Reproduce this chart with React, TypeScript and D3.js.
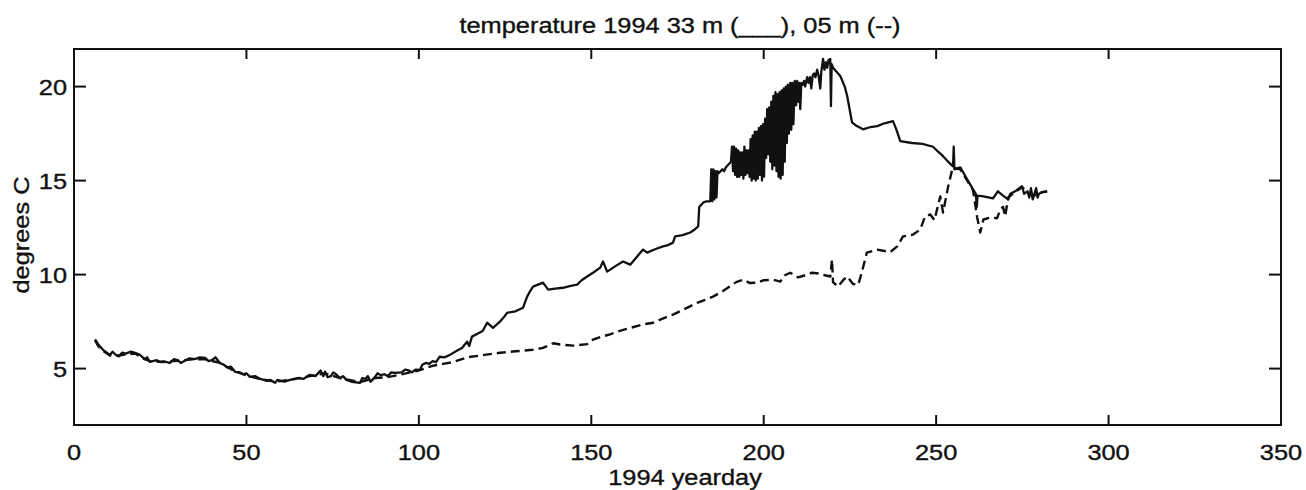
import React from "react";
import * as d3 from "d3";

// 33 m temperature (solid) : [yearday, degrees C]
const deep33m: [number, number][] = [
  [6.1, 6.55], [7.0, 6.3], [8.4, 6.0], [9.5, 5.85], [10.4, 5.73], [11.2, 5.9], [12, 5.75], [13, 5.65],
  [14, 5.85], [15, 5.8], [16.5, 5.9], [17.7, 5.84], [19, 5.75], [20.5, 5.5], [21.2, 5.6], [22, 5.36], [24, 5.45], [25, 5.35], [26, 5.38],
  [27.8, 5.3], [29, 5.5], [30, 5.45], [31, 5.3], [32, 5.4], [33.5, 5.55], [35, 5.5], [36.5, 5.6], [38, 5.57], [39, 5.4], [40, 5.45], [41, 5.6], [42.3, 5.3],
  [43.5, 5.2], [44.5, 5.05], [45.5, 5.1], [46.7, 4.83], [48, 4.8], [49, 4.7], [50, 4.75], [51, 4.56], [52.5, 4.6], [54, 4.45], [56, 4.35], [57, 4.4], [58.3, 4.24],
  [59, 4.4], [60, 4.35], [61, 4.3], [62.6, 4.4], [65, 4.5], [66.5, 4.45], [68.4, 4.67], [70, 4.6], [71.5, 4.9], [72.3, 4.6], [72.8, 4.83],
  [73.5, 4.55], [74.5, 4.6], [75.2, 4.8], [76, 4.7], [77.1, 4.5], [78, 4.6], [79, 4.4], [80.5, 4.3], [82.9, 4.24], [83.6, 4.5], [84.5, 4.45],
  [85.2, 4.6], [86, 4.3], [87.3, 4.56], [88, 4.75], [89, 4.65], [90, 4.7], [91, 4.6], [92, 4.8], [93, 4.77], [95, 4.8], [96, 4.95], [97, 4.9],
  [98, 4.8], [99, 4.95], [100.3, 4.93], [101, 5.2], [102, 5.3], [103, 5.25], [104, 5.4], [105, 5.35], [106, 5.63], [107.5, 5.6], [109, 5.73],
  [111, 5.95], [112.5, 6.1], [114, 6.43], [114.6, 6.2], [115.4, 6.7], [117, 6.85], [118.5, 7.0], [119.8, 7.44], [121.5, 7.17],
  [123.5, 7.5], [124.5, 7.7], [125.6, 7.97], [128, 8.05], [130.2, 8.24], [131.4, 8.83], [132.2, 9.1], [133.1, 9.36],
  [136, 9.57], [137.5, 9.2], [139.5, 9.25], [141.8, 9.3], [144, 9.4], [145.9, 9.47], [147.2, 9.7],
  [148.8, 9.9], [150.5, 10.1], [152.6, 10.37], [153.4, 10.7], [154.6, 10.16], [157, 10.45],
  [159.2, 10.7], [161.3, 10.53], [163, 10.9], [165, 11.33], [166.2, 11.17], [168.5, 11.35],
  [170.8, 11.5], [172, 11.55], [173.7, 11.7], [174.3, 12.03], [176.5, 12.1], [178.7, 12.24], [180, 12.4], [181, 12.56],
  [181.3, 13.6], [182.5, 13.84], [183.5, 13.9],
  [184.5, 13.9], [184.8, 15.6], [185.1, 13.9], [185.4, 15.6], [185.7, 14.0], [186.0, 15.5], [186.3, 14.1], [186.6, 15.5],
  [187.0, 15.4], [187.5, 15.5], [188.0, 15.6], [188.5, 15.5], [189.0, 15.7], [189.5, 15.8], [190.0, 15.9], [190.5, 16.0],
  [190.8, 16.8], [191.1, 15.5], [191.4, 16.8], [191.7, 15.3], [192.0, 16.7], [192.3, 15.2], [192.6, 16.6], [192.9, 15.2],
  [193.2, 16.5], [193.5, 15.3], [193.8, 16.5], [194.1, 15.1], [194.4, 16.8], [194.7, 15.3], [195.0, 16.6], [195.3, 15.4],
  [195.6, 16.6], [195.9, 15.2], [196.2, 17.2], [196.5, 15.0], [196.8, 17.4], [197.1, 15.1], [197.4, 17.6], [197.7, 15.0],
  [198.0, 17.6], [198.3, 15.1], [198.6, 17.8], [198.9, 15.3], [199.2, 17.9], [199.5, 15.0], [199.8, 18.0], [200.1, 15.2],
  [200.4, 18.3], [200.7, 16.2], [201.0, 18.8], [201.3, 16.4], [201.6, 18.9], [201.9, 16.0], [202.2, 19.2], [202.5, 15.6],
  [202.8, 19.5], [203.1, 15.8], [203.4, 19.7], [203.7, 15.5], [204.0, 19.6], [204.3, 15.2], [204.6, 19.7], [204.9, 15.1],
  [205.2, 19.8], [205.5, 15.3], [205.8, 19.9], [206.1, 16.0], [206.4, 20.0], [206.7, 17.0], [207.0, 20.1], [207.3, 17.5],
  [207.7, 20.2], [208.0, 17.7], [208.3, 20.2], [208.6, 18.0], [209.0, 20.3], [209.4, 19.0], [209.7, 20.3], [210.0, 19.2],
  [210.3, 20.2], [210.6, 18.8], [210.9, 20.2], [211.3, 20.1], [211.7, 20.3], [212.0, 20.0], [212.6, 20.5], [213.0, 20.2],
  [213.4, 20.5], [213.8, 19.9], [214.2, 20.6], [214.6, 20.7], [215.0, 20.5], [215.5, 20.9], [215.9, 20.6], [216.4, 19.9],
  [216.7, 20.8], [217.2, 21.47], [217.6, 20.9], [218.0, 21.3], [218.4, 21.0], [218.8, 21.4], [219.3, 21.47], [219.5, 18.96],
  [219.7, 21.2], [220.1, 21.0], [222.2, 20.56], [223.5, 20.0], [224.2, 19.5], [225.6, 18.1], [227, 17.9],
  [228.8, 17.73], [231, 17.85], [232.9, 17.9], [235, 18.05], [237.5, 18.16], [238.5, 17.7],
  [239.6, 17.1], [243, 17.0], [246, 16.95], [249.1, 16.8], [250.5, 16.55], [252, 16.3],
  [253.5, 16.0], [254.9, 15.76], [255.1, 16.8], [255.3, 15.6], [257, 15.7], [259, 15.07],
  [260.7, 14.53], [261.5, 14.3], [261.8, 13.6], [262, 14.2], [263.7, 14.16], [266.5, 14.05],
  [267.9, 14.43], [269.4, 14.2], [270.9, 14.0], [271.5, 14.3], [272.9, 14.43], [274.9, 14.7],
  [275.5, 14.3], [276.5, 14.43], [277.0, 14.1], [277.5, 14.6], [278.0, 14.0], [278.3, 14.16], [279, 14.6], [279.4, 14.1], [279.8, 14.3], [281, 14.4],
  [282.2, 14.43],
];

// 05 m temperature (dashed) : [yearday, degrees C]
const shallow05m: [number, number][] = [
  [6.1, 6.5], [7, 6.2], [8.4, 5.95], [10.4, 5.7], [13, 5.7], [15, 5.75], [17.7, 5.8],
  [20.5, 5.5], [22, 5.4], [26, 5.35], [30, 5.42], [35, 5.5], [38, 5.5], [42.3, 5.3],
  [46.7, 4.85], [51, 4.58], [54, 4.45], [58.3, 4.3], [62.6, 4.4], [68.4, 4.6], [72.8, 4.75],
  [77.1, 4.5], [82.9, 4.28], [87.3, 4.5], [91, 4.55], [94.5, 4.67], [100, 4.9], [104, 5.15],
  [107, 5.25], [110, 5.35], [114, 5.6], [118, 5.7], [123.5, 5.84], [128, 5.92], [133, 6.0],
  [136, 6.1], [139, 6.35], [141, 6.28], [144.7, 6.22], [148.8, 6.3], [150, 6.5],
  [152.6, 6.68], [155, 6.8], [157.5, 6.96], [160, 7.1], [162, 7.2], [165, 7.35], [168, 7.44],
  [170, 7.6], [172, 7.76], [174, 7.9], [176.6, 8.13], [178.5, 8.3], [180.7, 8.5],
  [183, 8.65], [185.3, 8.83], [188, 9.1], [190, 9.35], [192, 9.6], [194, 9.73], [196, 9.55],
  [198, 9.57], [200, 9.7], [202.7, 9.73], [204.8, 9.63], [206, 9.95], [207.7, 10.1],
  [210, 9.85], [212.6, 10.0], [214, 10.1], [216.4, 10.05], [218, 9.95], [219.3, 9.9],
  [219.8, 10.8], [220.1, 9.6], [221.6, 9.36], [223, 9.7], [224.2, 9.9], [225.9, 9.5],
  [227.4, 9.45], [228.5, 10.16], [229.9, 11.17], [232.9, 11.33], [236.7, 11.2],
  [238.7, 11.5], [240.4, 12.03], [243.3, 12.13], [245.4, 12.4], [246.8, 13.1], [248.3, 13.2],
  [249.5, 12.9], [251.2, 14.16], [252, 13.3], [253.5, 14.7], [254, 15.07], [254.8, 15.7],
  [257, 15.6], [259, 15.0], [260.7, 14.5], [261.9, 13.04], [262.8, 12.24], [263.7, 12.93],
  [265.7, 13.04], [267.7, 13.0], [268.6, 13.47], [269.4, 13.6], [270, 13.1], [270.9, 14.1],
  [272.9, 14.4], [274.9, 14.65], [276.5, 14.4], [278.3, 14.2], [280, 14.35], [282.2, 14.43],
];

const xTicks = [0, 50, 100, 150, 200, 250, 300, 350];
const yTicks = [5, 10, 15, 20];
const titleText = "temperature 1994 33 m (___), 05 m (--)";
const xLabel = "1994 yearday";
const yLabel = "degrees C";

const W = 1306;
const H = 490;
const FONT = "'Liberation Sans', Arial, Helvetica, sans-serif";
const FS = 21.5;
const SX = 1.18;
const INK = "#111";

export default function App() {
  const x = d3.scaleLinear().domain([0, 350]).range([74, 1281]);
  const y = d3.scaleLinear().domain([2, 22]).range([425, 49]);
  const line = d3
    .line<[number, number]>()
    .x((d) => x(d[0]))
    .y((d) => y(d[1]));

  const left = x(0);
  const right = x(350);
  const top = y(22);
  const bottom = y(2);

  const textProps = { fontSize: FS, fill: INK, stroke: INK, strokeWidth: 0.35 };

  return (
    <svg
      width={W}
      height={H}
      style={{ position: "absolute", left: 0, top: 0, background: "#fff" }}
      fontFamily={FONT}
    >
      <rect x={0} y={0} width={W} height={H} fill="#fff" />
      <text transform={`translate(${680},${33}) scale(${SX},1)`} textAnchor="middle" {...textProps}>
        {titleText}
      </text>

      {/* data */}
      <path d={line(shallow05m) || ""} fill="none" stroke={INK} strokeWidth={2.4} strokeDasharray="9,5" strokeLinejoin="round" />
      <path d={line(deep33m) || ""} fill="none" stroke={INK} strokeWidth={2.3} strokeLinejoin="round" />

      {/* frame */}
      <rect x={left} y={top} width={right - left} height={bottom - top} fill="none" stroke={INK} strokeWidth={2} />

      {xTicks.map((t) => (
        <g key={"x" + t}>
          <line x1={x(t)} x2={x(t)} y1={bottom} y2={bottom - 10} stroke={INK} strokeWidth={2} />
          <line x1={x(t)} x2={x(t)} y1={top} y2={top + 10} stroke={INK} strokeWidth={2} />
          <text transform={`translate(${x(t)},${460}) scale(${SX},1)`} textAnchor="middle" {...textProps}>
            {t}
          </text>
        </g>
      ))}
      {yTicks.map((t) => (
        <g key={"y" + t}>
          <line x1={left} x2={left + 12} y1={y(t)} y2={y(t)} stroke={INK} strokeWidth={2} />
          <line x1={right} x2={right - 12} y1={y(t)} y2={y(t)} stroke={INK} strokeWidth={2} />
          <text transform={`translate(${67},${y(t) + 8}) scale(${SX},1)`} textAnchor="end" {...textProps}>
            {t}
          </text>
        </g>
      ))}

      <text transform={`translate(${685},${485}) scale(${SX},1)`} textAnchor="middle" {...textProps}>
        {xLabel}
      </text>
      <text transform={`translate(${29},${235}) rotate(-90) scale(${SX},1)`} textAnchor="middle" {...textProps}>
        {yLabel}
      </text>
    </svg>
  );
}
